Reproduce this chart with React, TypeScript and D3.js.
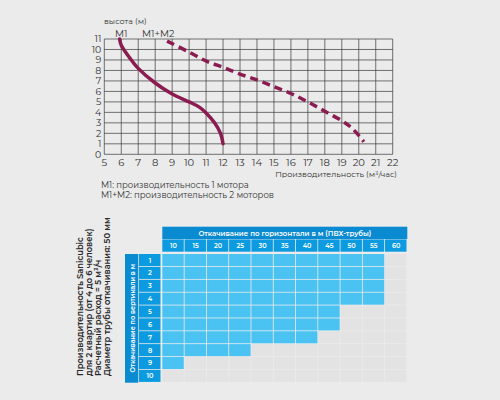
import React from "react";
import * as d3 from "d3";

const xTicks = [5,6,7,8,9,10,11,12,13,14,15,16,17,18,19,20,21,22];
const yTicks = [0,1,2,3,4,5,6,7,8,9,10,11];
const m1X = [5.9, 6.0, 6.5, 7.0, 8.0, 9.0, 10.0, 10.6, 11.0, 11.5, 11.85, 12.0];
const m1Y = [11.0, 10.4, 9.2, 8.2, 6.8, 5.75, 5.0, 4.5, 3.95, 3.0, 2.0, 1.0];
const m2X = [8.7, 10, 11, 12, 13, 14, 15, 16, 17, 18, 19, 19.6, 20.3];
const m2Y = [10.8, 9.75, 8.9, 8.3, 7.65, 7.1, 6.45, 5.8, 5.0, 4.1, 3.2, 2.5, 1.2];
const legendLines = ["M1: производительность 1 мотора", "M1+M2: производительность 2 моторов"];

const tableCols = [10, 15, 20, 25, 30, 35, 40, 45, 50, 55, 60];
const tableRows = [1, 2, 3, 4, 5, 6, 7, 8, 9, 10];
const filledCols = [10, 10, 10, 10, 8, 8, 7, 4, 1, 0];
const sideText = [
  "Производительность Sanicubic",
  "для 2 квартир (от 4 до 6 человек)",
  "Расчетный расход = 5 м³/ч",
  "Диаметр трубы откачивания: 50 мм",
];

const FONT = "Montserrat, 'Open Sans', Roboto, sans-serif";
const LINE = "#8b1c51";

export default function App() {
  const x = d3.scaleLinear().domain([5, 22]).range([104.3, 392.7]);
  const y = d3.scaleLinear().domain([0, 11]).range([154.3, 39]);
  const line = d3.line<[number, number]>().x(d => x(d[0])).y(d => y(d[1])).curve(d3.curveCatmullRom);
  const m1 = m1X.map((v, i) => [v, m1Y[i]] as [number, number]);
  const m2 = m2X.map((v, i) => [v, m2Y[i]] as [number, number]);

  const tx = d3.scaleBand<number>().domain(tableCols).range([162.3, 407.3]);
  const ty = d3.scaleBand<number>().domain(tableRows).range([254, 382.7]);

  return (
    <svg width={500} height={400} style={{ position: "absolute", left: 0, top: 0, background: "#ebebeb" }} fontFamily={FONT}>
      <rect width={500} height={400} fill="#ebebeb" />
      {/* grid */}
      {xTicks.map(t => (
        <line key={"gx" + t} x1={x(t)} x2={x(t)} y1={y(0)} y2={y(11)} stroke="#3a3a3a" strokeWidth={0.7} />
      ))}
      {yTicks.map(t => (
        <line key={"gy" + t} x1={x(5)} x2={x(22)} y1={y(t)} y2={y(t)} stroke="#3a3a3a" strokeWidth={0.7} />
      ))}
      {yTicks.map(t => (
        <text key={"ty" + t} x={x(5) - 3} y={y(t) + 3.3} fontSize={9.4} textAnchor="end" fill="#333">{t}</text>
      ))}
      {xTicks.map(t => (
        <text key={"tx" + t} x={x(t)} y={y(0) + 11.3} fontSize={10} textAnchor="middle" fill="#333">{t}</text>
      ))}
      <text x={104} y={24} fontSize={8} fill="#333">высота (м)</text>
      <text x={115} y={37} fontSize={9.5} fill="#333">M1</text>
      <text x={142} y={37} fontSize={9.5} fill="#333">M1+M2</text>
      <text x={397} y={176.5} fontSize={8} textAnchor="end" fill="#333">Производительность (м³/час)</text>
      {legendLines.map((l, i) => (
        <text key={l} x={101} y={187.5 + i * 10} fontSize={8.5} fill="#333">{l}</text>
      ))}
      <path d={line(m1) || ""} fill="none" stroke={LINE} strokeWidth={3.5} strokeLinecap="round" />
      <path d={line(m2) || ""} fill="none" stroke={LINE} strokeWidth={3.5} strokeDasharray="8,5" />

      {/* table header */}
      <rect x={162.3} y={226.7} width={245} height={12.3} fill="#0a8ad0" />
      <text x={(162.3 + 407.3) / 2} y={235.8} fontSize={7} fill="#fff" textAnchor="middle" fontWeight={600}>
        Откачивание по горизонтали в м  (ПВХ-трубы)
      </text>
      {tableCols.map(c => (
        <g key={"hc" + c}>
          <rect x={tx(c)!} y={239.4} width={tx.bandwidth() - 0.8} height={12.3} fill="#0c9be0" />
          <text x={tx(c)! + tx.bandwidth() / 2} y={248.2} fontSize={6.5} fill="#fff" textAnchor="middle" fontWeight={600}>{c}</text>
        </g>
      ))}
      {/* vertical label */}
      <rect x={125} y={254} width={13.3} height={128.7} fill="#0a8ad0" />
      <text transform={`translate(${134.5},${318.3}) rotate(-90)`} fontSize={6.5} fill="#fff" textAnchor="middle" fontWeight={600}>
        Откачивание по вертикали в м
      </text>
      {tableRows.map((r, ri) => (
        <g key={"r" + r}>
          <rect x={139} y={ty(r)!} width={21.5} height={ty.bandwidth() - 0.8} fill="#0c9be0" />
          <text x={150} y={ty(r)! + 8.5} fontSize={6.5} fill="#fff" textAnchor="middle" fontWeight={600}>{r}</text>
          {tableCols.map((c, ci) => (
            <rect key={"c" + c} x={tx(c)!} y={ty(r)!} width={tx.bandwidth() - 0.8} height={ty.bandwidth() - 0.8}
              fill={ci < filledCols[ri] ? "#4ac3f3" : "#e3e3e3"} />
          ))}
        </g>
      ))}
      {/* side text */}
      {sideText.map((s, i) => (
        <text key={s} transform={`translate(${83 + i * 9},${376}) rotate(-90)`} fontSize={8.3} fill="#2a2a2a" fontWeight={600}>{s}</text>
      ))}
    </svg>
  );
}
